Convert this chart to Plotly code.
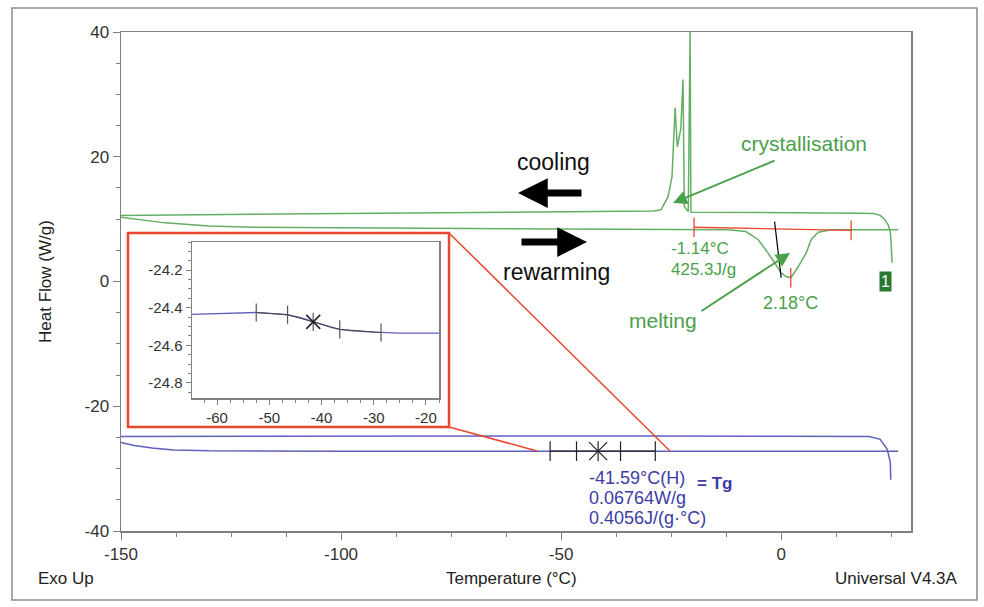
import plotly.graph_objects as go

# ---------------- data ----------------
cool_temp = [-150, -140, -120, -100, -80, -60, -40, -32, -29, -27.3, -25.7, -24.8, -24.3, -24.1,
             -23.6, -22.8, -22.3, -22.0, -21.1, -20.7, -20.5, -10, 0, 10, 18, 21, 22.5, 23.5,
             24.3, 24.8, 25.0, 25.2]
cool_flow = [10.6, 10.7, 10.8, 10.9, 11.0, 11.1, 11.2, 11.2, 11.3, 11.5, 13.6, 16.8, 23.2, 27.9,
             21.6, 24.5, 32.4, 12.0, 11.2, 40.0, 11.1, 11.1, 11.0, 11.0, 10.95, 10.9, 10.6, 10.0,
             9.1, 8.0, 5.9, 3.0]

warm_temp = [-150, -145, -140, -130, -120, -100, -60, -30, -20, -12, -8, -5.2, -3, -1.5, 0, 1.1,
             2.2, 3.9, 5.0, 5.7, 6.8, 8.4, 11.4, 20, 26.6]
warm_flow = [10.3, 9.8, 9.4, 8.9, 8.7, 8.6, 8.5, 8.45, 8.4, 8.3, 8.0, 6.7, 4.6, 3.0, 1.4, 0.8,
             0.6, 2.4, 3.8, 4.6, 6.7, 7.9, 8.3, 8.3, 8.3]

base_temp = [-19.8, 15.9]
base_flow = [8.7, 8.2]
tangent_temp = [-1.5, 0.0]
tangent_flow = [9.6, 0.6]
peak_temp = [2.18]
peak_flow = [0.6]

blue_up_temp = [-150, -120, -90, -60, -30, 0, 20, 22.5, 24.1, 24.8, 24.9]
blue_up_flow = [-24.85, -24.8, -24.8, -24.75, -24.75, -24.8, -24.85, -25.3, -26.9, -29.0, -31.8]

blue_lo_temp = [-150, -147, -143, -138, -130, -120, -100, -50, 0, 26.6]
blue_lo_flow = [-25.8, -26.3, -26.7, -27.0, -27.15, -27.2, -27.2, -27.2, -27.2, -27.2]

tg_temp = [-52.5, -46.5, -41.59, -36.5, -28.6]
tg_main_flow = [-27.2, -27.2, -27.2, -27.2, -27.2]

ins_temp = [-65, -60, -55, -52.5, -50, -46.5, -44, -42, -40, -38, -36.5, -34, -30, -28.6, -25, -20, -17.5]
ins_flow = [-24.435, -24.43, -24.425, -24.425, -24.43, -24.437, -24.452, -24.47, -24.49, -24.505,
            -24.515, -24.523, -24.53, -24.532, -24.535, -24.535, -24.535]
tg_ins_flow = [-24.425, -24.437, -24.475, -24.515, -24.532]

x_ticks = [-150, -100, -50, 0]
x_tick_labels = ["-150", "-100", "-50", "0"]
y_ticks = [-40, -20, 0, 20, 40]
y_tick_labels = ["-40", "-20", "0", "20", "40"]
ins_x_ticks = [-60, -50, -40, -30, -20]
ins_x_labels = ["-60", "-50", "-40", "-30", "-20"]
ins_y_ticks = [-24.8, -24.6, -24.4, -24.2]
ins_y_labels = ["-24.8", "-24.6", "-24.4", "-24.2"]

GREEN = "rgb(100,175,100)"
GREEN_T = "rgb(75,160,75)"
BLUE = "rgb(95,95,190)"
BLUE_T = "rgb(60,60,165)"
RED = "rgb(232,70,45)"
FONT = "Liberation Sans, Arial, sans-serif"

# plot area geometry in px (for placing layout text)
L, R, T, B = 121, 911, 32, 531
XR = [-150, 29.5]
YR = [-40, 40]


def dx(px):
    return XR[0] + (px - L) * (XR[1] - XR[0]) / (R - L)


def dy(py):
    return YR[1] - (py - T) * (YR[1] - YR[0]) / (B - T)


def px_(px):
    return (px - L) / (R - L)


def py_(py):
    return (B - py) / (B - T)


fig = go.Figure()

fig.add_trace(go.Scatter(x=cool_temp, y=cool_flow, mode="lines",
                         line=dict(color=GREEN, width=1.5), hoverinfo="skip"))
fig.add_trace(go.Scatter(x=warm_temp, y=warm_flow, mode="lines",
                         line=dict(color=GREEN, width=1.5), hoverinfo="skip"))
fig.add_trace(go.Scatter(x=base_temp, y=base_flow, mode="lines+markers",
                         line=dict(color=RED, width=1.3),
                         marker=dict(symbol="line-ns", size=14, line=dict(color=RED, width=1.3)),
                         hoverinfo="skip"))
fig.add_trace(go.Scatter(x=peak_temp, y=peak_flow, mode="markers",
                         marker=dict(symbol="line-ns", size=14, line=dict(color=RED, width=1.3)),
                         hoverinfo="skip"))
fig.add_trace(go.Scatter(x=tangent_temp, y=tangent_flow, mode="lines",
                         line=dict(color="black", width=1.2), hoverinfo="skip"))
fig.add_trace(go.Scatter(x=blue_up_temp, y=blue_up_flow, mode="lines",
                         line=dict(color=BLUE, width=1.5), hoverinfo="skip"))
fig.add_trace(go.Scatter(x=blue_lo_temp, y=blue_lo_flow, mode="lines",
                         line=dict(color=BLUE, width=1.5), hoverinfo="skip"))
fig.add_trace(go.Scatter(x=tg_temp, y=tg_main_flow, mode="lines+markers",
                         line=dict(color="#222", width=1.2),
                         marker=dict(symbol="line-ns", size=14, line=dict(color="#222", width=1.2)),
                         hoverinfo="skip"))
fig.add_trace(go.Scatter(x=[tg_temp[2]], y=[tg_main_flow[2]], mode="markers",
                         marker=dict(symbol="x-thin", size=18, line=dict(color="#222", width=1.2)),
                         hoverinfo="skip"))

# inset
fig.add_trace(go.Scatter(x=ins_temp, y=ins_flow, mode="lines", xaxis="x2", yaxis="y2",
                         line=dict(color=BLUE, width=1.3), hoverinfo="skip"))
fig.add_trace(go.Scatter(x=tg_temp, y=tg_ins_flow, mode="lines+markers", xaxis="x2", yaxis="y2",
                         line=dict(color="#444", width=1),
                         marker=dict(symbol="line-ns", size=13, line=dict(color="#555", width=1.2)),
                         hoverinfo="skip"))
fig.add_trace(go.Scatter(x=[tg_temp[2]], y=[tg_ins_flow[2]], mode="markers", xaxis="x2", yaxis="y2",
                         marker=dict(symbol="x-thin", size=14, line=dict(color="#222", width=1.5)),
                         hoverinfo="skip"))

axis_common = dict(showline=True, linecolor="#808080", linewidth=1.5, mirror=True,
                   ticks="outside", tickcolor="#808080", showgrid=False, zeroline=False,
                   automargin=False,
                   tickfont=dict(family=FONT, size=17, color="#333"))
inset_font = dict(family=FONT, size=15, color="#333")

fig.update_layout(
    width=984, height=607,
    margin=dict(l=L, r=984 - R, t=T, b=607 - B, autoexpand=False),
    paper_bgcolor="white", plot_bgcolor="white",
    showlegend=False,
    hovermode=False,
    font=dict(family=FONT),
    xaxis=dict(range=XR, tickvals=x_ticks, ticktext=x_tick_labels, ticklen=7,
               minor=dict(dtick=12.5, tick0=-150, ticks="outside", ticklen=4, tickcolor="#808080"),
               **axis_common),
    yaxis=dict(range=YR, tickvals=y_ticks, ticktext=y_tick_labels, ticklen=7,
               minor=dict(dtick=5, tick0=-40, ticks="outside", ticklen=4, tickcolor="#808080"),
               **axis_common),
    xaxis2=dict(domain=[px_(192), px_(439)], anchor="y2", range=[-64.8, -17.5],
                tickvals=ins_x_ticks, ticktext=ins_x_labels, ticklen=5,
                minor=dict(dtick=2.5, tick0=-65, ticks="outside", ticklen=3, tickcolor="#808080"),
                **{**axis_common, "tickfont": inset_font}),
    yaxis2=dict(domain=[py_(398), py_(242)], anchor="x2", range=[-24.88, -24.05],
                tickvals=ins_y_ticks, ticktext=ins_y_labels, ticklen=5,
                minor=dict(dtick=0.05, tick0=-24.8, ticks="outside", ticklen=3, tickcolor="#808080"),
                **{**axis_common, "tickfont": inset_font}),
)

shapes = [
    # outer frame of figure
    dict(type="rect", xref="paper", yref="paper", x0=px_(12), x1=px_(977), y0=py_(600), y1=py_(8),
         line=dict(color="#8a8a8a", width=1.5)),
    # red zoom box
    dict(type="rect", xref="paper", yref="paper", x0=px_(128), x1=px_(449), y0=py_(427), y1=py_(233),
         line=dict(color=RED, width=2.5)),
    # connectors
    dict(type="line", xref="x", yref="y", x0=dx(449), y0=dy(233), x1=dx(670), y1=dy(451),
         line=dict(color=RED, width=1.5)),
    dict(type="line", xref="x", yref="y", x0=dx(449), y0=dy(427), x1=dx(537), y1=dy(451),
         line=dict(color=RED, width=1.5)),
]
fig.update_layout(shapes=shapes)

ann = []


def text(x, y, s, size, color, xanchor="center", ref="data", **kw):
    if ref == "data":
        ann.append(dict(x=dx(x), y=dy(y), xref="x", yref="y", text=s, showarrow=False,
                        font=dict(family=FONT, size=size, color=color), xanchor=xanchor,
                        yanchor="middle", **kw))
    else:
        ann.append(dict(x=px_(x), y=py_(y), xref="paper", yref="paper", text=s, showarrow=False,
                        font=dict(family=FONT, size=size, color=color), xanchor=xanchor,
                        yanchor="middle", **kw))


def arrow(x0, y0, x1, y1, color, width, size, head=2):
    ann.append(dict(x=dx(x1), y=dy(y1), ax=dx(x0), ay=dy(y0), xref="x", yref="y",
                    axref="x", ayref="y", text="", showarrow=True, arrowhead=head,
                    arrowsize=size, arrowwidth=width, arrowcolor=color, standoff=0))


text(553, 162, "cooling", 23, "#111")
text(556, 272, "rewarming", 23, "#111")
arrow(583, 193, 518, 193, "#000", 7, 0.85)
arrow(520, 242, 587, 242, "#000", 7, 0.85)

text(804, 143, "crystallisation", 21, GREEN_T)
arrow(776, 160, 673, 203, GREEN_T, 2, 1.4)
text(663, 320, "melting", 21, GREEN_T)
arrow(700, 312, 790, 253, GREEN_T, 2, 1.4)

text(669, 248, "-1.14°C", 17, GREEN_T, xanchor="left")
text(669, 269, "425.3J/g", 17, GREEN_T, xanchor="left")
text(790, 303, "2.18°C", 18, GREEN_T)
text(885, 281, "1", 16, "white", bgcolor="rgb(40,120,50)", borderpad=1)

text(587, 478, "-41.59°C(H)", 18, BLUE_T, xanchor="left")
text(587, 498, "0.06764W/g", 18, BLUE_T, xanchor="left")
text(587, 518, "0.4056J/(g·°C)", 18, BLUE_T, xanchor="left")
text(714, 483, "<b>= Tg</b>", 17, BLUE_T)

text(66, 578, "Exo Up", 17, "#222", ref="paper")
text(511, 578, "Temperature (°C)", 17, "#222", ref="paper")
text(896, 578, "Universal V4.3A", 17, "#222", ref="paper")
text(45, 282, "Heat Flow (W/g)", 17, "#222", ref="paper", textangle=-90)

fig.update_layout(annotations=ann)

fig.write_html("out.html",
               config={"displayModeBar": False, "staticPlot": True},
               post_script="document.body.style.margin='0';document.body.style.overflow='hidden';")
